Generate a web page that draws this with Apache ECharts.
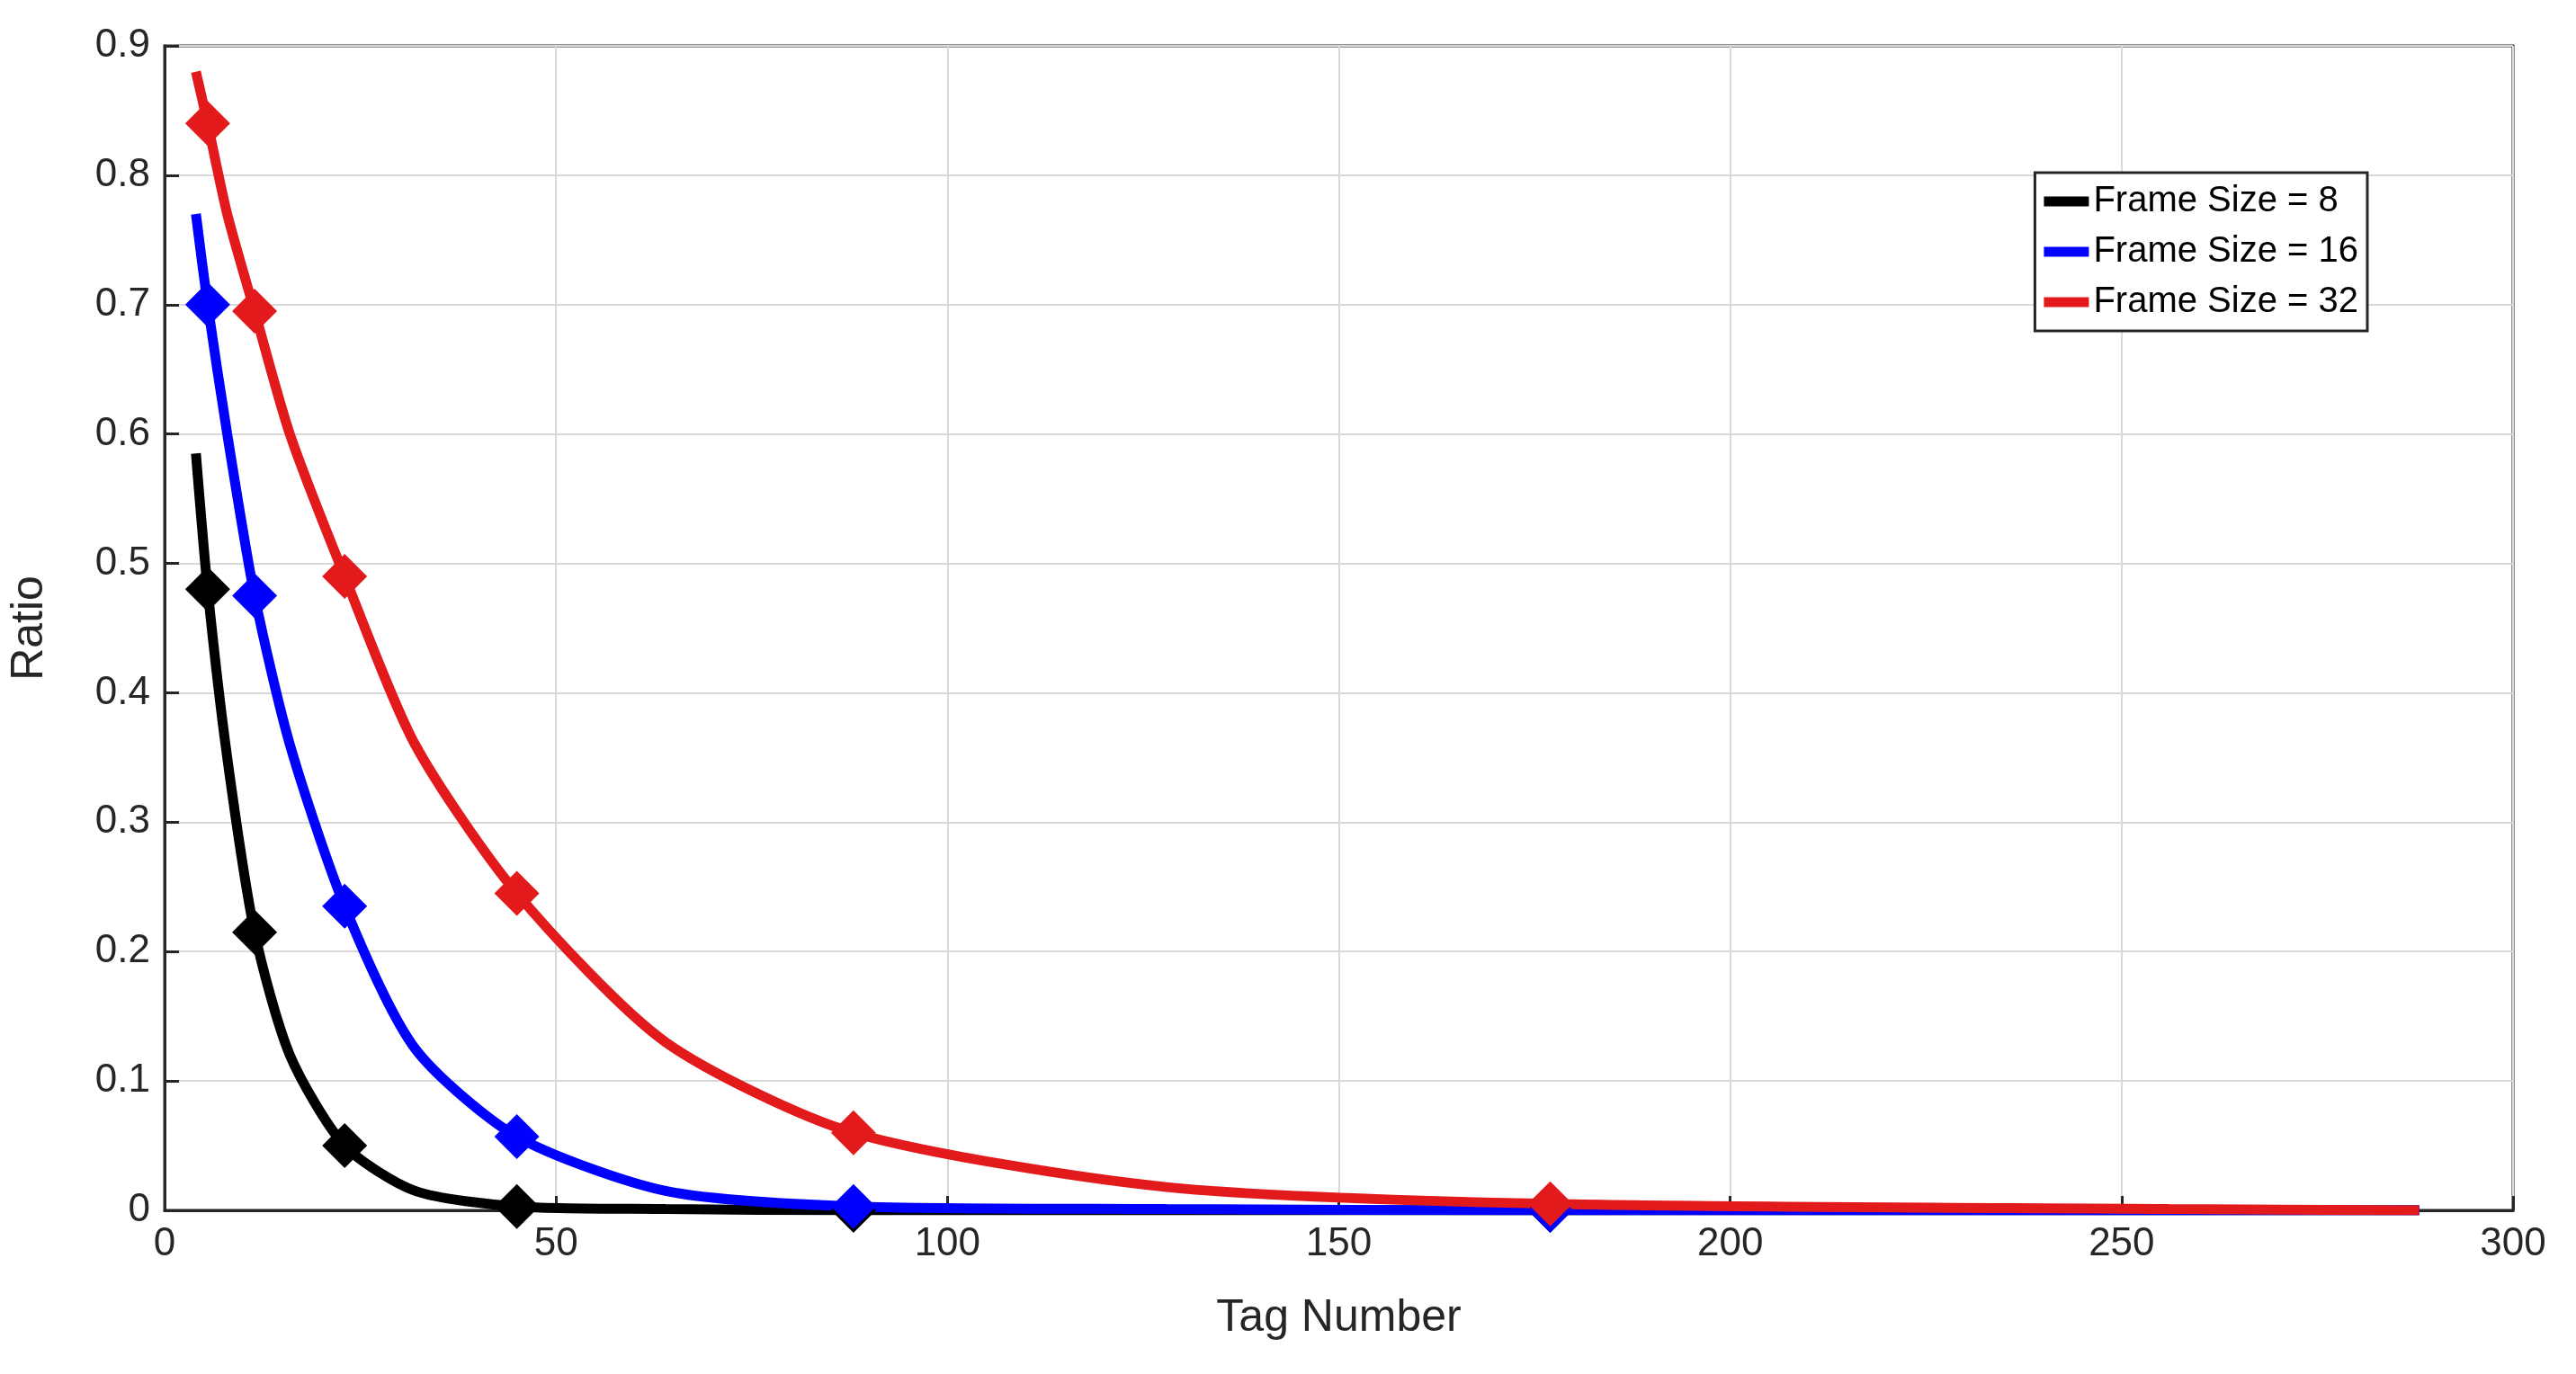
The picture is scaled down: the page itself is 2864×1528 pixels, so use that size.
<!DOCTYPE html>
<html>
<head>
<meta charset="utf-8">
<script src="https://cdn.jsdelivr.net/npm/echarts@6/dist/echarts.min.js"></script>
<style>html,body{margin:0;background:#fff}#main{width:2864px;height:1528px}</style>
</head>
<body>
<div id="main"></div>
<script>
var tags = [4, 5.5, 8, 11.5, 16, 23, 32, 45, 64, 88, 128, 177, 256, 288];
var markIdx = [1, 3, 5, 7, 9, 11];
var frame8 = [0.585, 0.48, 0.35, 0.215, 0.12, 0.05, 0.015, 0.003, 0.001, 0, 0, 0, 0, 0];
var frame16 = [0.77, 0.70, 0.60, 0.475, 0.36, 0.235, 0.125, 0.057, 0.015, 0.003, 0.001, 0, 0, 0];
var frame32 = [0.88, 0.84, 0.77, 0.695, 0.60, 0.49, 0.36, 0.245, 0.13, 0.06, 0.018, 0.005, 0.001, 0];
var names = ['Frame Size = 8', 'Frame Size = 16', 'Frame Size = 32'];
var colors = ['#000000', '#0000ff', '#e31a1c'];

function mk(name, vals, color) {
    return {
        name: name,
        type: 'line',
        color: color,
        smooth: 0.25,
        lineStyle: { width: 11, color: color },
        symbol: 'diamond',
        symbolSize: 50,
        itemStyle: { color: color },
        data: vals.map(function (v, i) {
            var d = { value: [tags[i], v] };
            if (markIdx.indexOf(i) < 0) d.symbol = 'none';
            return d;
        })
    };
}

var chart = echarts.init(document.getElementById('main'));
var axisText = { color: '#262626', fontSize: 44, fontFamily: 'Liberation Sans' };
chart.setOption({
    animation: false,
    grid: { left: 183, right: 70, top: 51, bottom: 182, show: true, borderColor: '#262626', borderWidth: 3 },
    legend: {
        right: 232, top: 192, orient: 'vertical',
        data: names,
        backgroundColor: '#fff', borderColor: '#262626', borderWidth: 3,
        padding: [12, 10], itemGap: 16, itemWidth: 50, itemHeight: 11,
        icon: 'rect',
        textStyle: { fontSize: 40, color: '#000', fontFamily: 'Liberation Sans' }
    },
    xAxis: {
        type: 'value', min: 0, max: 300, interval: 50,
        name: 'Tag Number', nameLocation: 'middle', nameGap: 95,
        nameTextStyle: { fontSize: 50, color: '#262626', fontFamily: 'Liberation Sans' },
        axisLine: { lineStyle: { color: '#262626', width: 3 } },
        axisTick: { inside: true, length: 16, lineStyle: { color: '#262626', width: 3 } },
        axisLabel: Object.assign({ margin: 16 }, axisText),
        splitLine: { lineStyle: { color: '#d8d8d8', width: 2 } }
    },
    yAxis: {
        type: 'value', min: 0, max: 0.9, interval: 0.1,
        name: 'Ratio', nameLocation: 'middle', nameGap: 125,
        nameTextStyle: { fontSize: 50, color: '#262626', fontFamily: 'Liberation Sans' },
        axisLine: { show: true, lineStyle: { color: '#262626', width: 3 } },
        axisTick: { show: true, inside: true, length: 16, lineStyle: { color: '#262626', width: 3 } },
        axisLabel: Object.assign({ margin: 16 }, axisText),
        splitLine: { lineStyle: { color: '#d8d8d8', width: 2 } }
    },
    series: [mk(names[0], frame8, colors[0]), mk(names[1], frame16, colors[1]), mk(names[2], frame32, colors[2])]
});
</script>
</body>
</html>
